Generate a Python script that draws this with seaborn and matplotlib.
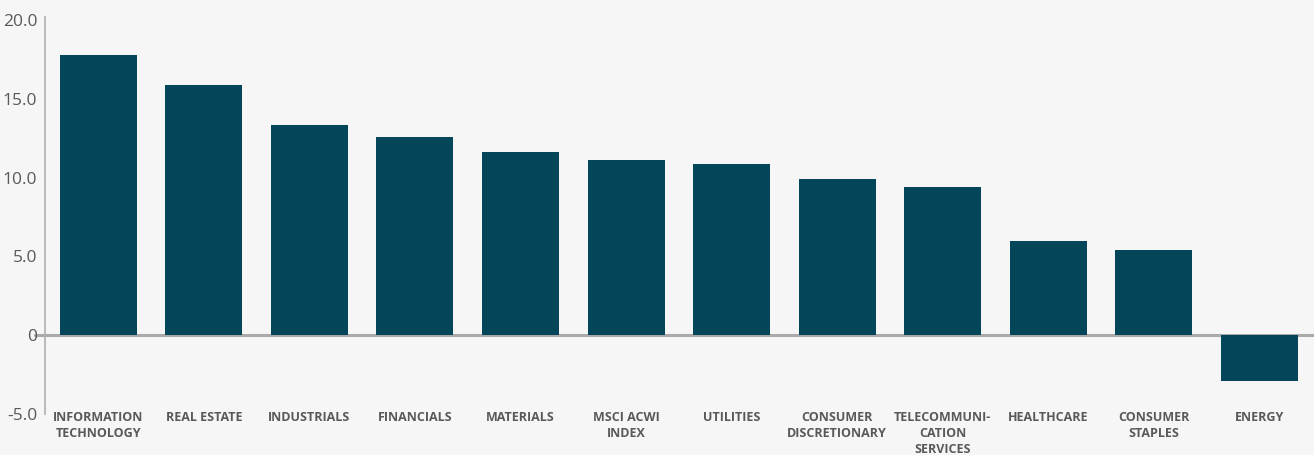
import matplotlib
matplotlib.use("Agg")
import matplotlib.pyplot as plt
import seaborn as sns
import pandas as pd

categories = ["INFORMATION\nTECHNOLOGY", "REAL ESTATE", "INDUSTRIALS", "FINANCIALS",
              "MATERIALS", "MSCI ACWI\nINDEX", "UTILITIES", "CONSUMER\nDISCRETIONARY",
              "TELECOMMUNI-\nCATION\nSERVICES", "HEALTHCARE", "CONSUMER\nSTAPLES", "ENERGY"]
values = [17.75, 15.9, 13.35, 12.6, 11.63, 11.12, 10.87, 9.92, 9.41, 5.99, 5.42, -2.9]
yticks = [-5, 0, 5, 10, 15, 20]
ytick_labels = ["-5.0", "0", "5.0", "10.0", "15.0", "20.0"]

bg = "#f6f6f6"
bar_color = "#03465a"
text_color = "#58595b"

sns.set_theme(style="white")
plt.rcParams["font.family"] = ["Open Sans", "DejaVu Sans"]

df = pd.DataFrame({"category": categories, "value": values})

fig = plt.figure(figsize=(13.14, 4.55), dpi=100)
fig.patch.set_facecolor(bg)
ax = fig.add_axes([0.0346, 0.090, 0.964, 0.866])
ax.set_facecolor(bg)

sns.barplot(data=df, x="category", y="value", color=bar_color, saturation=1,
            width=0.73, linewidth=0, edgecolor="none", ax=ax)

ax.set_xlim(-0.5, 11.5)
ax.set_ylim(-5, 20)
ax.set_yticks(yticks)
ax.set_yticklabels(ytick_labels, color=text_color, fontsize=12.5)
ax.tick_params(axis="y", length=0, pad=6)
ax.tick_params(axis="x", length=0, pad=-2)
ax.set_xticks(range(len(categories)))
ax.set_xticklabels(categories, fontsize=9, fontweight="bold", color=text_color,
                   va="top", linespacing=1.27)
ax.set_xlabel("")
ax.set_ylabel("")

for s in ["top", "right", "bottom"]:
    ax.spines[s].set_visible(False)
ax.spines["left"].set_color("#b0b0b0")
ax.spines["left"].set_linewidth(1.2)
ax.spines["left"].set_bounds(-5, 20.2)

ax.axhline(0, xmin=-0.008, xmax=1.01, color="#aaaaaa", linewidth=2.2, zorder=0.5,
           clip_on=False)

fig.savefig("out.png", dpi=100, facecolor=bg)
